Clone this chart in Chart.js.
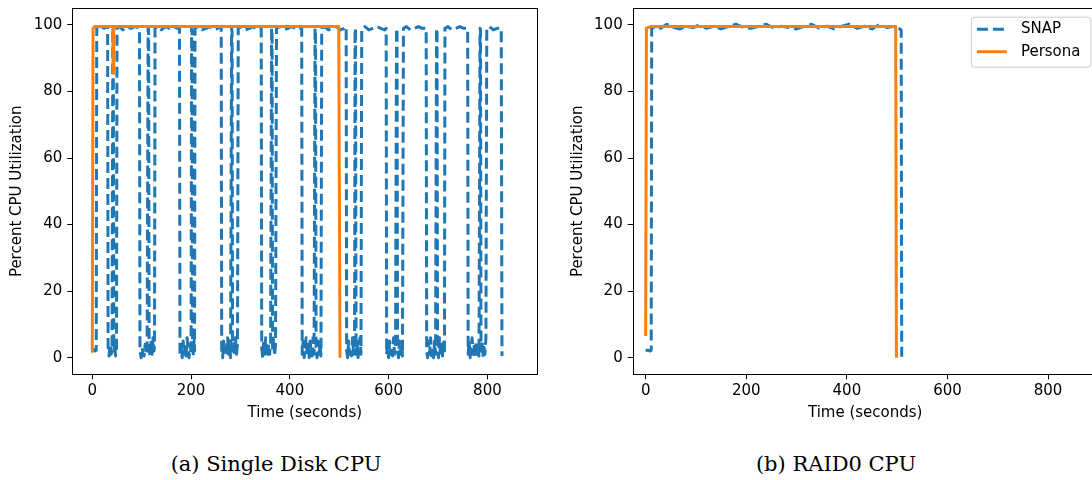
<!DOCTYPE html>
<html lang="en">
<head>
<meta charset="UTF-8">
<title>CPU Utilization: Single Disk vs RAID0</title>
<script src="https://cdn.jsdelivr.net/npm/chart.js@4.4.0/dist/chart.umd.min.js"></script>
<style>
    body { margin: 0; background: #fff; width: 1092px; height: 480px; overflow: hidden; position: relative; }
    canvas { position: absolute; top: 0; }
    #cpu-disk { left: 0; }
    #cpu-raid { left: 546px; }
    .caption { position: absolute; top: 452px; font-family: "DejaVu Serif", serif; font-size: 21px; line-height: 1.2; color: #000; transform: translateX(-50%); white-space: nowrap; }
</style>
</head>
<body>
<canvas id="cpu-disk" width="546" height="430"></canvas>
<canvas id="cpu-raid" width="560" height="430"></canvas>
<div class="caption" style="left:276px">(a) Single Disk CPU</div>
<div class="caption" style="left:836px">(b) RAID0 CPU</div>
<script>
// [time (s), percent CPU]
const diskSnap = [
    [0,2],[3,2.5],[6,2],[8,2.2],[9,99],[12,99.5],[14,98.5],[18,99.5],[24,99],[31,99.5],
    [32,3],[34,0.5],[36,4],[38,1],[40,2],[41.5,99],[42.5,98],[43.5,2],[45,5],[47,0.5],[49,3],[50,99],
    [55,99.5],[62,98.5],[70,99.5],[78,99],[86,99.5],[95.5,99],
    [96.5,2],[99,0],[101,3],[103,1],[105,0.5],[107,4],[109,1],[111,2],[113,99],[114,98.5],[115,3],[117,0.5],[119,5],[121,1],[123,6],[125,2],[126,4],[127,99],
    [132,99.5],[140,98.5],[148,99.5],[156,99],[164,99.5],[172,99],[176.5,99],
    [177.5,1],[180,4],[182,0],[184,5],[186,1],[188,3],[190,0.5],[192,6],[194,2],[196,0],[198,4],[200,1],[201,99],[202,98],[203,3],[205,0.5],[206,5],[207,2],[208,99],
    [214,99.5],[222,98.5],[230,99],[238,99.5],[246,98.5],[254,99],[261,99.5],
    [262,2],[264,0],[266,5],[268,1],[270,3],[272,0.5],[274,6],[276,1],[278,4],[280,0],[282,99],[283,98],[284,2],[286,5],[288,0.5],[290,6],[292,1],[294,4],[295.5,99],
    [302,99.5],[310,98.5],[318,99],[326,99.5],[334,98.5],[342,99],
    [343,3],[345,0],[347,5],[349,1],[351,6],[353,2],[355,0],[357,4],[359,1],[361,5],[363,99],[364,98.5],[365,2],[367,6],[369,0.5],[371,4],[373,99],
    [380,99.5],[388,98.5],[396,99],[404,99.5],[412,99],[420,98.5],[424,99],
    [425,1],[427,5],[429,0],[431,3],[433,6],[435,1],[437,4],[439,0],[441,5],[443,2],[445,0.5],[447,6],[449,1],[451,99],[452,98.5],[453,3],[455,0],[457,5],[459,1],[461,4],[463,0.5],[464.5,99],
    [470,99.5],[478,98.5],[486,99],[494,99.5],[502,98.5],[510,99],[514,99.5],
    [515,2],[517,0],[519,5],[521,1],[523,3],[525,0.5],[527,6],[529,1],[531,4],[532,99],[533,98],[534,1],[536,5],[538,0],[540,3],[542,6],[544,1],[545.5,99],
    [552,99.5],[560,98.5],[568,99],[576,99.5],[584,99],[592,98.5],[595,99],
    [596,1],[598,4],[600,0],[602,5],[604,1],[606,3],[608,0.5],[610,6],[612,1],[614,4],[616,99],[617,98.5],[618,2],[620,0],[622,5],[624,1],[626,4],[628,0.5],[630,99],
    [636,99.5],[644,98.5],[652,99],[660,99.5],[668,99],[676,99],
    [677,2],[679,0],[681,5],[683,1],[685,6],[687,0.5],[689,3],[691,0],[693,5],[695,1],[697,99],[698,98],[699,3],[701,0],[703,6],[705,1],[707,4],[709,0.5],[711,5],[713,1],[714,99],
    [720,99.5],[728,98.5],[736,99],[744,99.5],[752,99],[760,99],
    [761,1],[763,5],[765,0],[767,3],[769,6],[771,1],[773,4],[775,0],[777,5],[779,1],[781,3],[783,0.5],[785,99],[786,98.5],[787,2],[789,5],[791,0],[793,4],[795,1],[797,6],[798.7,99],
    [804,99.5],[812,98.5],[820,99],[828,99],[829.5,0.5]
];
const diskPersona = [
    [0,1.5],[1.5,99],[5,99.5],[20,99.5],[41.5,99.5],[42.5,85.5],[43.5,99.5],[100,99.5],
    [200,99.5],[300,99.5],[400,99.5],[499,99.5],[501.5,0]
];
const raidSnap = [
    [0,2],[4,2.3],[8,2],[11,2.2],[12,99],[20,99.5],[30,99],[42,100.2],[55,99.3],[68,98.8],[80,99.6],
    [95,99.2],[108,100.2],[120,99],[135,99.6],[150,98.8],[165,99.6],[180,100.2],[195,99.2],[210,99],
    [225,99.6],[240,100.2],[255,99],[270,99.6],[285,99.2],[300,98.8],[315,99.6],[330,100.2],[345,99],
    [360,99.6],[375,98.8],[390,99.6],[405,100.2],[420,99],[435,99.6],[450,98.8],[465,100.2],[480,99.2],
    [495,99.6],[503,99],[508,98.5],[509,0.3]
];
const raidPersona = [
    [0,6.5],[1.5,99],[10,99.5],[100,99.5],[250,99.5],[400,99.5],[497,99.5],[498.5,0]
];
const seriesNames = ['SNAP', 'Persona'];
const xTicks = [0, 200, 400, 600, 800];
const yTicks = [0, 20, 40, 60, 80, 100];

const FONT = { family: 'DejaVu Sans', size: 15 };
Chart.defaults.color = '#000';

function toPoints(pairs) {
    return pairs.map(p => ({ x: p[0], y: p[1] }));
}

// matplotlib-like box around the axes
const framePlugin = {
    id: 'frame',
    afterDraw(chart) {
        const { ctx, chartArea: a } = chart;
        ctx.save();
        ctx.strokeStyle = '#000';
        ctx.lineWidth = 1;
        ctx.strokeRect(Math.round(a.left) + 0.5, Math.round(a.top) + 0.5,
            Math.round(a.right - a.left), Math.round(a.bottom - a.top));
        ctx.restore();
    }
};

// upper-right legend box
const boxLegendPlugin = {
    id: 'boxLegend',
    afterDraw(chart) {
        if (!chart.options.plugins.boxLegend.show) return;
        const { ctx, chartArea: a } = chart;
        const bw = 119.5, bh = 50;
        const bx = a.right - 7.3 - bw, by = a.top + 8.4;
        ctx.save();
        ctx.beginPath();
        ctx.roundRect(bx + 0.5, by + 0.5, bw, bh, 3);
        ctx.fillStyle = 'rgba(255,255,255,0.8)';
        ctx.fill();
        ctx.strokeStyle = '#cccccc';
        ctx.lineWidth = 1;
        ctx.stroke();
        chart.data.datasets.forEach((ds, i) => {
            const y = by + 12.5 + i * 22.5;
            ctx.beginPath();
            ctx.setLineDash(ds.borderDash || []);
            ctx.strokeStyle = ds.borderColor;
            ctx.lineWidth = ds.borderWidth;
            ctx.moveTo(bx + 6, y);
            ctx.lineTo(bx + 36, y);
            ctx.stroke();
            ctx.setLineDash([]);
            ctx.fillStyle = '#000';
            ctx.font = FONT.size + 'px ' + FONT.family;
            ctx.textBaseline = 'middle';
            ctx.fillText(ds.label, bx + 50, y);
        });
        ctx.restore();
    }
};

function makeChart(canvasId, snap, persona, cfg) {
    new Chart(document.getElementById(canvasId), {
        type: 'line',
        data: {
            datasets: [
                {
                    label: seriesNames[0],
                    data: toPoints(snap),
                    borderColor: '#1f77b4',
                    borderWidth: 3,
                    borderDash: [11, 5],
                    borderJoinStyle: 'round',
                    pointRadius: 0,
                    tension: 0,
                    order: 1
                },
                {
                    label: seriesNames[1],
                    data: toPoints(persona),
                    borderColor: '#ff7f0e',
                    borderWidth: 3,
                    borderJoinStyle: 'round',
                    pointRadius: 0,
                    tension: 0,
                    order: 0
                }
            ]
        },
        options: {
            responsive: false,
            animation: false,
            devicePixelRatio: 1,
            layout: { padding: { top: 8.3, right: cfg.padRight, left: 0, bottom: 0 } },
            plugins: {
                legend: { display: false },
                tooltip: { enabled: false },
                boxLegend: { show: cfg.legend }
            },
            scales: {
                x: {
                    type: 'linear',
                    min: cfg.xMin,
                    max: cfg.xMax,
                    afterBuildTicks: s => { s.ticks = xTicks.map(v => ({ value: v })); },
                    afterFit: s => { s.height = 55.7; s.paddingLeft = 0; s.paddingRight = 0; },
                    grid: { drawOnChartArea: false, drawTicks: true, tickLength: 5, color: '#000', tickWidth: 1 },
                    border: { display: false },
                    ticks: { font: FONT, color: '#000', padding: 3, maxRotation: 0 },
                    title: { display: true, text: 'Time (seconds)', font: FONT, color: '#000', padding: { top: 0, bottom: 8 } }
                },
                y: {
                    type: 'linear',
                    min: -5,
                    max: 105,
                    afterBuildTicks: s => { s.ticks = yTicks.map(v => ({ value: v })); },
                    afterFit: s => { s.width = cfg.yWidth; s.paddingTop = 0; s.paddingBottom = 0; },
                    grid: { drawOnChartArea: false, drawTicks: true, tickLength: 5, color: '#000', tickWidth: 1 },
                    border: { display: false },
                    ticks: { font: FONT, color: '#000', padding: 5 },
                    title: { display: true, text: 'Percent CPU Utilization', font: FONT, color: '#000', padding: { top: cfg.yTitlePad, bottom: 0 } }
                }
            }
        },
        plugins: [framePlugin, boxLegendPlugin]
    });
}

makeChart('cpu-disk', diskSnap, diskPersona, { xMin: -40.5, xMax: 901, yWidth: 72.3, yTitlePad: 8, padRight: 8.7, legend: false });
makeChart('cpu-raid', raidSnap, raidPersona, { xMin: -25.8, xMax: 898.6, yWidth: 86.7, yTitlePad: 23, padRight: 8.3, legend: true });
</script>
</body>
</html>
